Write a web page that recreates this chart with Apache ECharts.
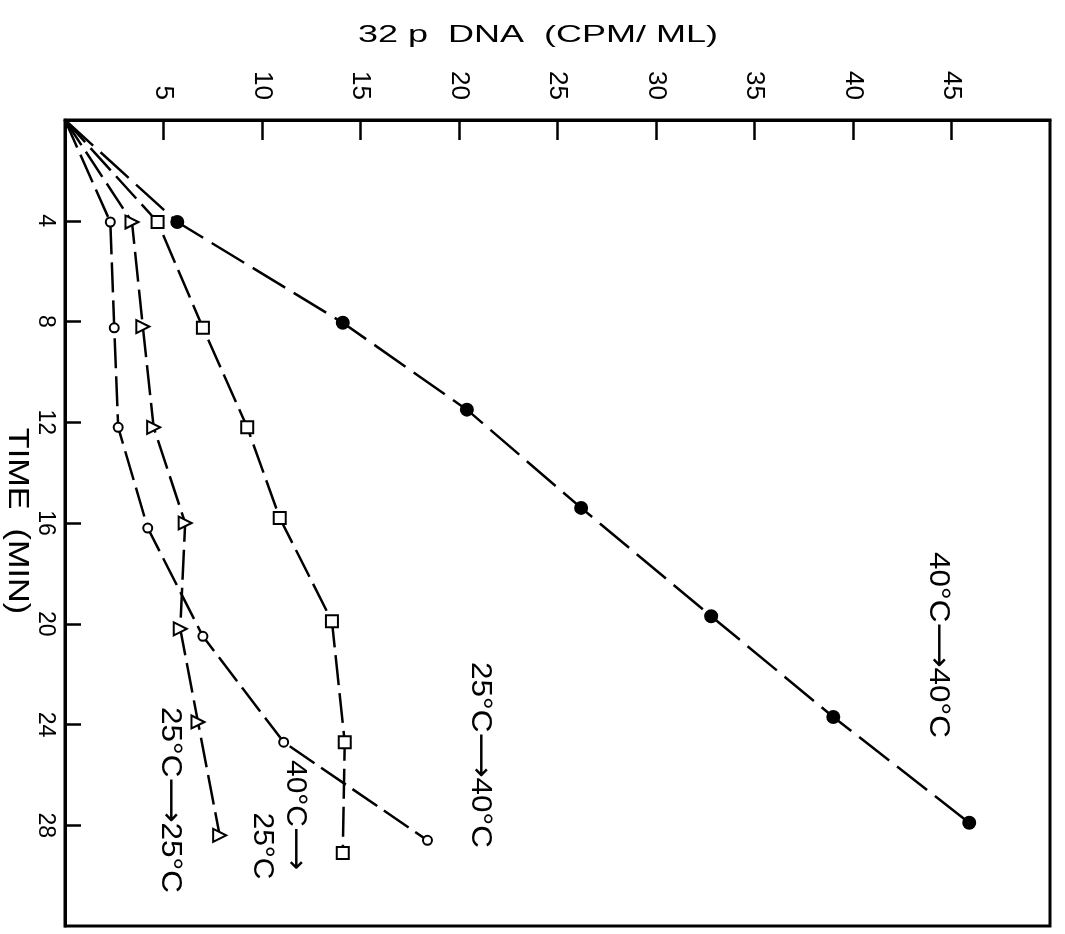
<!DOCTYPE html>
<html><head><meta charset="utf-8">
<script src="https://cdn.jsdelivr.net/npm/echarts@6/dist/echarts.min.js"></script>
<style>html,body{margin:0;padding:0;background:#fff}#c{width:1065px;height:934px}</style>
</head><body><div id="c"></div>
<script>
// value axis (32P DNA, CPM/ML) tick labels and time axis tick labels
const dnaTicks = [5, 10, 15, 20, 25, 30, 35, 40, 45];
const timeTicks = [4, 8, 12, 16, 20, 24, 28];

// each point: [32P DNA (CPM/ML), time (min)]; all curves start at the origin
const s40to40 = [[0,0],[5.7,4.05],[14.1,8.05],[20.4,11.5],[26.2,15.4],[32.8,19.7],[39.0,23.7],[45.9,27.9]];
const s40to25 = [[0,0],[4.7,4.05],[7.0,8.25],[9.25,12.2],[10.9,15.8],[13.55,19.9],[14.2,24.7],[14.1,29.1]];
const s25to25 = [[0,0],[3.4,4.05],[3.95,8.2],[4.5,12.2],[6.1,16.0],[5.85,20.2],[6.75,23.9],[7.85,28.4]];
const s25to40 = [[0,0],[2.3,4.05],[2.5,8.25],[2.7,12.2],[4.2,16.2],[7.0,20.5],[11.1,24.7],[18.4,28.6]];

const FONT = '"Liberation Sans", "DejaVu Sans", Arial, sans-serif';

function mk(name, data, symbol, size, fill, rotate, dash) {
  return {
    type: 'line', name: name,
    data: data.map((d, i) => i === 0 ? { value: d, symbol: 'none' } : { value: d }),
    symbol: symbol, symbolSize: size, symbolRotate: rotate || 0, showAllSymbol: true,
    itemStyle: { color: fill, borderColor: '#000', borderWidth: 2 },
    lineStyle: { color: '#000', width: 2.5, type: dash },
    emphasis: { disabled: true },
    silent: true
  };
}

const chart = echarts.init(document.getElementById('c'), null, { renderer: 'canvas' });

function rotText(txt, x, y, size, sx) {
  return {
    type: 'text', x: x, y: y, rotation: -Math.PI / 2, scaleX: sx || 1,
    style: { text: txt, font: size + 'px ' + FONT, fill: '#000',
      align: 'center', verticalAlign: 'middle', textAlign: 'center', textVerticalAlign: 'middle' }
  };
}

chart.setOption({
  animation: false,
  backgroundColor: '#fff',
  grid: { left: 65, top: 120, right: 15, bottom: 8, containLabel: false, outerBoundsMode: 'none',
    show: true, borderColor: '#000', borderWidth: 3, backgroundColor: 'transparent' },
  xAxis: {
    type: 'value', position: 'top', min: 0, max: 50, interval: 5,
    axisLine: { show: true, lineStyle: { color: '#000', width: 3 } },
    axisTick: { show: true, inside: true, length: 20, customValues: dnaTicks, lineStyle: { color: '#000', width: 2.5 } },
    axisLabel: { rotate: -90, margin: 20, fontSize: 26, fontFamily: FONT, color: '#000', customValues: dnaTicks,
      formatter: v => dnaTicks.includes(v) ? String(v) : '' },
    splitLine: { show: false }
  },
  yAxis: {
    type: 'value', inverse: true, min: 0, max: 32, interval: 4,
    axisLine: { show: true, lineStyle: { color: '#000', width: 3 } },
    axisTick: { show: true, inside: true, length: 16, customValues: timeTicks, lineStyle: { color: '#000', width: 2.5 } },
    axisLabel: { rotate: -90, margin: 8, fontSize: 23, fontFamily: FONT, color: '#000', customValues: timeTicks,
      formatter: v => timeTicks.includes(v) ? String(v) : '' },
    splitLine: { show: false }
  },
  graphic: [
    { type: 'text', x: 538, y: 35, scaleX: 1.5,
      style: { text: '32 p  DNA  (CPM/ ML)', font: '24px ' + FONT, fill: '#000',
        align: 'center', verticalAlign: 'middle', textAlign: 'center', textVerticalAlign: 'middle' } },
    rotText('TIME  (MIN)', 17, 521, 29, 1.18),
    rotText('40°C\u27F640°C', 938, 645, 30, 1.05),
    rotText('25°C\u27F640°C', 480, 755, 30, 1.05),
    rotText('40°C\u27F6', 295, 815, 30, 1.0),
    rotText('25°C', 262, 846, 30, 1.0),
    rotText('25°C\u27F625°C', 170, 800, 30, 1.05)
  ],
  series: [
    mk('40°C→40°C', s40to40, 'circle', 12, '#000', 0, [38, 10]),
    mk('40°C→25°C', s40to25, 'rect', 12, '#fff', 0, [30, 8]),
    mk('25°C→25°C', s25to25, 'triangle', 13, '#fff', -90, [30, 8]),
    mk('25°C→40°C', s25to40, 'circle', 9, '#fff', 0, [30, 8])
  ]
});
</script>
</body></html>
